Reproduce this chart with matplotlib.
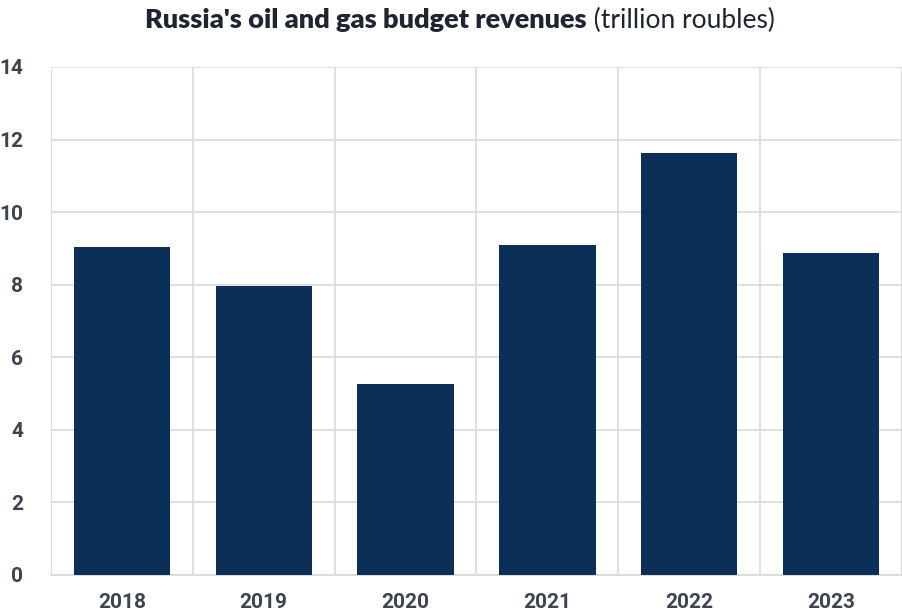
import matplotlib
matplotlib.use("Agg")
import matplotlib.pyplot as plt
import numpy as np

years = ["2018", "2019", "2020", "2021", "2022", "2023"]
revenues = [9.04, 7.96, 5.26, 9.09, 11.63, 8.87]
yticks = [0, 2, 4, 6, 8, 10, 12, 14]

W, H = 903, 611
fig = plt.figure(figsize=(W / 100, H / 100), dpi=100)
ax = fig.add_axes([51 / W, 1 - 575 / H, (902 - 51) / W, (575 - 67) / H])

x = np.arange(len(years))
ax.bar(x, revenues, width=0.68, color="#0c2f57", zorder=3)

ax.set_xlim(-0.5, len(years) - 0.5)
ax.set_ylim(0, 14)
ax.set_yticks(yticks)
ax.set_yticklabels([str(t) for t in yticks])
ax.set_xticks(x)
ax.set_xticklabels(years)
ax.set_xticks(np.arange(-0.5, len(years)), minor=True)

grid_c = "#dcdcdc"
ax.grid(axis="y", which="major", color=grid_c, linewidth=1.3, zorder=0)
ax.grid(axis="x", which="minor", color=grid_c, linewidth=1.3, zorder=0)
ax.grid(axis="x", which="major", visible=False)
for s in ["top", "right", "left"]:
    ax.spines[s].set_visible(False)
ax.spines["bottom"].set_color(grid_c)
ax.spines["bottom"].set_linewidth(1.5)
ax.tick_params(axis="both", which="both", length=0)
ax.tick_params(axis="y", pad=20)
ax.tick_params(axis="x", pad=13)
for lab in ax.get_xticklabels() + ax.get_yticklabels():
    lab.set_fontfamily("Roboto")
    lab.set_fontweight("bold")
    lab.set_fontsize(15)
    lab.set_color("#3d4450")

# Title: bold part + regular part
t1 = fig.text(0, 0, "Russia's oil and gas budget revenues", fontsize=19.5,
              fontweight="heavy", family="Lato", color="#1f2530")
t2 = fig.text(0, 0, " (trillion roubles)", fontsize=19, family="Lato",
              fontweight="normal", color="#1f2530")
fig.canvas.draw()
r = fig.canvas.get_renderer()
w1 = t1.get_window_extent(r).width
w2 = t2.get_window_extent(r).width
cx = 460
start = cx - (w1 + w2) / 2
ty = 1 - 20 / H
t1.set_position((start / W, ty))
t1.set_va("center")
t2.set_position(((start + w1) / W, ty))
t2.set_va("center")

fig.savefig("out.png", dpi=100, facecolor="white")
